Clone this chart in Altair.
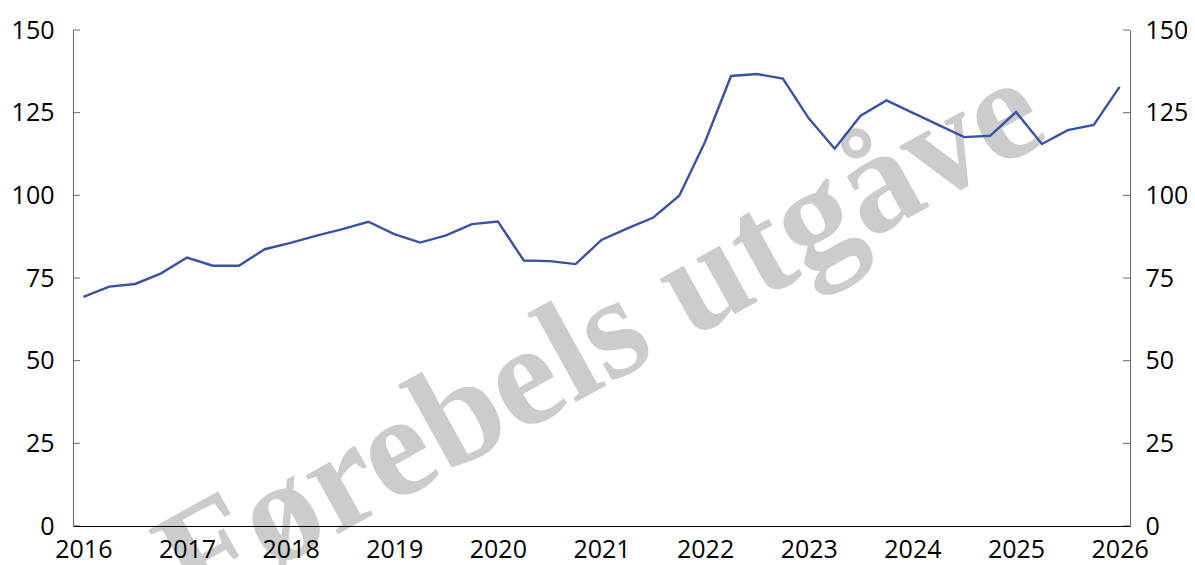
import altair as alt
import pandas as pd

# Quarterly values, 2016Q1 .. 2026Q1
years = [2016 + i * 0.25 for i in range(41)]
values = [69.3, 72.4, 73.2, 76.4,
          81.2, 78.7, 78.7, 83.7,
          85.6, 87.8, 89.8, 92.0,
          88.3, 85.7, 87.9, 91.3,
          92.1, 80.3, 80.1, 79.2,
          86.5, 90.0, 93.3, 99.9,
          116.2, 136.1, 136.7, 135.3,
          123.3, 114.1, 124.1, 128.7,
          125.0, 121.3, 117.6, 118.0,
          125.2, 115.5, 119.7, 121.3,
          132.8]
y_ticks = [0, 25, 50, 75, 100, 125, 150]
x_ticks = list(range(2016, 2027))
watermark = "Førebels utgåve"

df = pd.DataFrame({"t": years, "v": values})
ticks_df = pd.DataFrame({"v": y_ticks})
wm_df = pd.DataFrame({"label": [watermark]})

W, H = 1057, 496
FONT = "Open Sans"
FS = 25

xscale = alt.Scale(domain=[2015.9, 2026.1], nice=False, zero=False)
yscale = alt.Scale(domain=[0, 150], nice=False)

x_axis = alt.Axis(values=x_ticks, format="d", tickSize=0, grid=False,
                  domainColor="#000000", domainWidth=1.2,
                  labelFont=FONT, labelFontSize=FS, labelColor="#000000",
                  labelPadding=11, labelFlush=False, zindex=1)


def y_axis(orient, pad):
    return alt.Axis(orient=orient, values=y_ticks, tickSize=0, grid=False,
                    domainColor="#666666", labelFont=FONT, labelFontSize=FS,
                    labelColor="#000000", labelPadding=pad, zindex=1)


wm = alt.Chart(wm_df).mark_text(
    font="Liberation Serif", fontWeight="bold", fontSize=146, angle=331,
    color="#cccccc", align="center", baseline="middle"
).encode(text="label:N", x=alt.value(528), y=alt.value(308))

line = alt.Chart(df).mark_line(color="#3a52a3", strokeWidth=2.4).encode(
    x=alt.X("t:Q", scale=xscale, title=None, axis=x_axis),
    y=alt.Y("v:Q", scale=yscale, title=None, axis=y_axis("left", 19)),
)

right_axis = alt.Chart(df).mark_line(strokeOpacity=0).encode(
    x=alt.X("t:Q", scale=xscale, title=None, axis=x_axis),
    y=alt.Y("v:Q", scale=yscale, title=None, axis=y_axis("right", 15)),
)

left_ticks = alt.Chart(ticks_df).mark_rule(color="#666666", strokeWidth=1).encode(
    y=alt.Y("v:Q", scale=yscale, axis=None),
    x=alt.value(0), x2=alt.value(7),
)
right_ticks = alt.Chart(ticks_df).mark_rule(color="#666666", strokeWidth=1).encode(
    y=alt.Y("v:Q", scale=yscale, axis=None),
    x=alt.value(W - 7), x2=alt.value(W),
)

chart = alt.layer(wm, line, right_axis, left_ticks, right_ticks).resolve_axis(
    y="independent"
).properties(
    width=W, height=H,
    padding={"left": 65, "top": 22, "right": 57, "bottom": 39},
    autosize=alt.AutoSizeParams(type="none"),
).configure_view(stroke=None)

chart.save("out.html", embed_options={"renderer": "svg", "actions": False})
